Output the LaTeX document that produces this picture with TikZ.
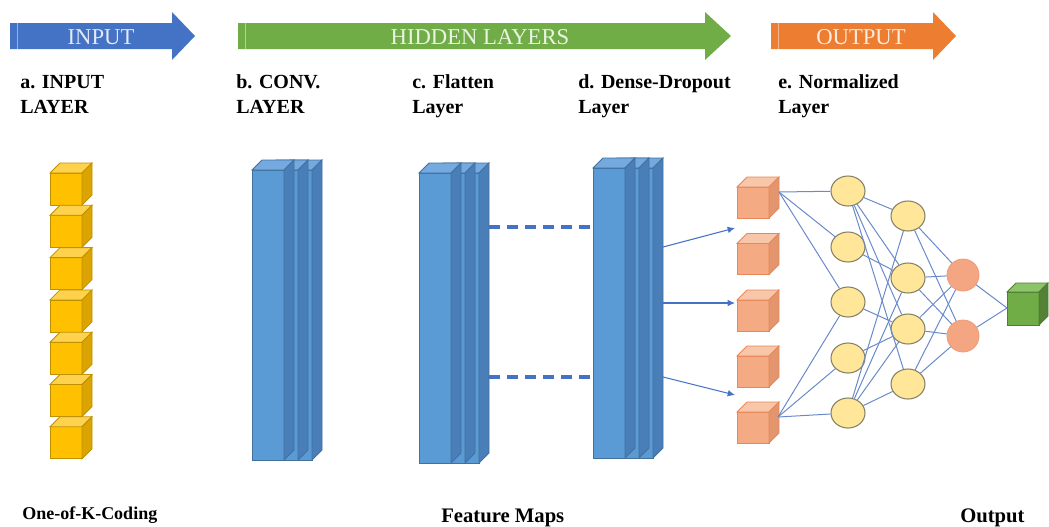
\documentclass[tikz,border=0pt]{standalone}
\usepackage{fontspec}
\setmainfont{Liberation Serif}
\usetikzlibrary{arrows.meta,shapes.geometric}

% stage arrows
\definecolor{arrBlue}{HTML}{4472C4}
\definecolor{arrGreen}{HTML}{70AD47}
\definecolor{arrOrange}{HTML}{ED7D31}
% cuboid palettes: front / top / side / edge
\definecolor{ycube-front}{HTML}{FFC000}
\definecolor{ycube-top}{HTML}{FFD24D}
\definecolor{ycube-side}{HTML}{DBA400}
\definecolor{ycube-edge}{HTML}{BF9000}
\definecolor{slab-front}{HTML}{5B9BD5}
\definecolor{slab-top}{HTML}{74AADF}
\definecolor{slab-side}{HTML}{4A7EB8}
\definecolor{slab-edge}{HTML}{41719C}
\definecolor{ocube-front}{HTML}{F4AA82}
\definecolor{ocube-top}{HTML}{F8C6A8}
\definecolor{ocube-side}{HTML}{E3956E}
\definecolor{ocube-edge}{HTML}{E8875A}
\definecolor{gcube-front}{HTML}{70AD47}
\definecolor{gcube-top}{HTML}{8DC46A}
\definecolor{gcube-side}{HTML}{548235}
\definecolor{gcube-edge}{HTML}{507E32}
% network
\definecolor{netBlue}{HTML}{6A8BCA}
\definecolor{neuronFill}{HTML}{FFE699}
\definecolor{neuronEdge}{HTML}{858167}
\definecolor{outFill}{HTML}{F4A582}
\definecolor{outEdge}{HTML}{F09A78}

% \cuboid{palette}{name}{x}{y of front top}{width}{height}{depth}
\newcommand{\cuboid}[7]{%
  \filldraw[fill=#1-front, draw=#1-edge, line width=0.6pt] (#3,#4) rectangle ++(#5,#6);
  \filldraw[fill=#1-top, draw=#1-edge, line width=0.6pt]
    (#3,#4) -- ++(#7,-#7) -- ++(#5,0) -- ++(-#7,#7) -- cycle;
  \filldraw[fill=#1-side, draw=#1-edge, line width=0.6pt]
    (#3+#5,#4) -- ++(#7,-#7) -- ++(0,#6) -- ++(-#7,#7) -- cycle;
  \coordinate (#2) at (#3+#5/2,#4+#6/2);
}

% three stacked feature-map slabs, back to front
\newcommand{\slabstack}[3]{%
  \cuboid{slab}{#1-3}{#2+28}{#3}{32}{290}{10}
  \cuboid{slab}{#1-2}{#2+14}{#3}{32}{290}{10}
  \cuboid{slab}{#1-1}{#2}{#3}{32}{290}{10}
}

% \stagearrow{colour}{left x}{head start x}{tip x}
\newcommand{\stagearrow}[4]{%
  \fill[#1] (#2,23) -- (#3,23) -- (#3,12) -- (#4,36) -- (#3,60) -- (#3,49) -- (#2,49) -- cycle;
  \draw[white, opacity=0.45, line width=0.6pt] (#2+7,23) -- (#2+7,49);
}

\tikzset{
  stagetext/.style={font=\fontsize{17}{20}\selectfont, inner sep=0pt},
  layerlabel/.style={font=\bfseries\fontsize{15}{18}\selectfont, anchor=base west, inner sep=0pt},
  footlabel/.style={font=\bfseries\fontsize{15.5}{18}\selectfont, anchor=base west, inner sep=0pt},
  neuron/.style={ellipse, draw=neuronEdge, fill=neuronFill, line width=0.8pt,
    minimum width=25.5pt, minimum height=22.5pt, inner sep=0pt},
  outneuron/.style={circle, draw=outEdge, fill=outFill, line width=0.6pt,
    minimum size=24pt, inner sep=0pt},
  net/.style={draw=netBlue, line width=0.75pt},
  feed/.style={draw=arrBlue, line width=0.8pt, -{Latex[length=5.5pt,width=5pt]}},
  mapdash/.style={draw=arrBlue, line width=2.4pt, dash pattern=on 8.5pt off 5pt}
}

\begin{document}
\begin{tikzpicture}[x=0.75pt,y=-0.75pt]
\useasboundingbox (0,0) rectangle (1049,526);

% ---- stage arrows ----
\stagearrow{arrBlue}{10}{172}{195}
\stagearrow{arrGreen}{238}{705}{731}
\stagearrow{arrOrange}{771}{933}{956}
\node[stagetext, text=white!85!arrBlue] (tinput) at (101,37) {INPUT};
\node[stagetext, text=white!85!arrGreen] (thidden) at (480,37) {HIDDEN LAYERS};
\node[stagetext, text=white!85!arrOrange] (toutput) at (861,37) {OUTPUT};

% ---- layer captions ----
\node[layerlabel] (la1) at (20,88)  {a. INPUT};
\node[layerlabel] (la2) at (20,113) {LAYER};
\node[layerlabel] (lb1) at (236,88)  {b. CONV.};
\node[layerlabel] (lb2) at (236,113) {LAYER};
\node[layerlabel] (lc1) at (412,88)  {c. Flatten};
\node[layerlabel] (lc2) at (412,113) {Layer};
\node[layerlabel] (ld1) at (578,88)  {d. Dense-Dropout};
\node[layerlabel] (ld2) at (578,113) {Layer};
\node[layerlabel] (le1) at (778,88)  {e. Normalized};
\node[layerlabel] (le2) at (778,113) {Layer};

% ---- one-of-K input cubes ----
\foreach \k in {0,...,6}{
  \cuboid{ycube}{in\k}{50}{173+42.3*\k}{32}{32}{10}
}

% ---- feature map slabs ----
\slabstack{conv}{252}{170}
\slabstack{flat}{419}{173}
\slabstack{dense}{593}{168}

% dashed links between flatten and dense stacks
\coordinate (flatA) at (489,227);
\coordinate (flatB) at (489,377);
\coordinate (denseA) at (593,227);
\coordinate (denseB) at (593,377);
\draw[mapdash] (flatA) -- (denseA);
\draw[mapdash] (flatB) -- (denseB);

% ---- normalized cubes ----
\foreach \k/\yy in {1/187,2/243.5,3/300,4/356,5/412}{
  \cuboid{ocube}{nc\k}{737}{\yy}{32}{31}{10}
}

% feed arrows from the dense stack
\coordinate (dOut1) at (663,247);
\coordinate (dOut2) at (663,303);
\coordinate (dOut3) at (663,377);
\coordinate (fIn1) at (735,228);
\coordinate (fIn2) at (735,303);
\coordinate (fIn3) at (735,395);
\draw[feed] (dOut1) -- (fIn1);
\draw[feed] (dOut2) -- (fIn2);
\draw[feed] (dOut3) -- (fIn3);

% ---- neurons ----
\node[neuron] (h1) at (848,191) {};
\node[neuron] (h2) at (848,247) {};
\node[neuron] (h3) at (848,302) {};
\node[neuron] (h4) at (848,358) {};
\node[neuron] (h5) at (848,413) {};
\node[neuron] (g1) at (908,216) {};
\node[neuron] (g2) at (908,278) {};
\node[neuron] (g3) at (908,329) {};
\node[neuron] (g4) at (908,384) {};
\node[outneuron] (o1) at (963,275) {};
\node[outneuron] (o2) at (963,336) {};

% output cube
\cuboid{gcube}{res}{1007}{292}{32}{33}{9}
\coordinate (resIn) at (1007,308);

% ---- connections ----
\coordinate (ncTop) at (779,192);
\coordinate (ncBot) at (778,417);
\foreach \t in {h1,h2,h3}{ \draw[net] (ncTop) -- (\t); }
\foreach \t in {h3,h4,h5}{ \draw[net] (ncBot) -- (\t); }
\foreach \t in {g1,g2,g3,g4}{
  \draw[net] (h1) -- (\t);
  \draw[net] (h5) -- (\t);
}
\draw[net] (h2) -- (g2);
\draw[net] (h3) -- (g3);
\draw[net] (h4) -- (g3);
\foreach \s in {g1,g2,g3,g4}{
  \draw[net] (\s) -- (o1);
  \draw[net] (\s) -- (o2);
}
\draw[net] (o1) -- (resIn);
\draw[net] (o2) -- (resIn);

% ---- footer captions ----
\node[footlabel, font=\bfseries\fontsize{13.5}{16}\selectfont] (fk) at (22,519) {One-of-K-Coding};
\node[footlabel] (fm) at (441,522) {Feature Maps};
\node[footlabel] (fo) at (960,522) {Output};

\end{tikzpicture}
\end{document}
